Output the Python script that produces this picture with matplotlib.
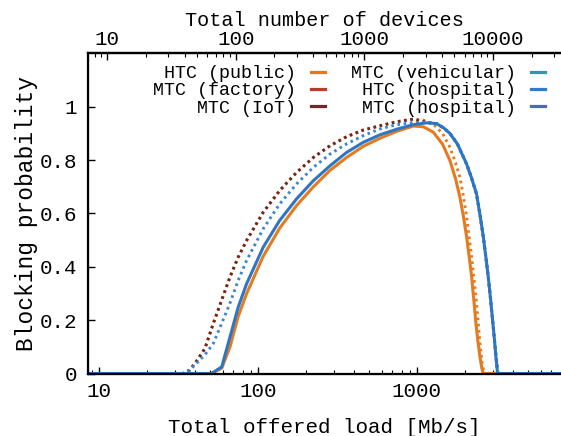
import matplotlib
matplotlib.use('Agg')
import matplotlib.pyplot as plt
from matplotlib.lines import Line2D
from matplotlib.ticker import LogLocator, FuncFormatter, NullFormatter

plt.rcParams['font.family'] = ['Liberation Mono', 'DejaVu Sans Mono']

# HTC (public) - solid orange
htc_public_load = [8.5, 51, 59.2, 66.7, 75.2, 84.9, 108, 137, 175, 223, 284, 361, 460, 585, 745, 948,
                   1100, 1267, 1450, 1614, 1750, 1864, 1960, 2055, 2130, 2209, 2280, 2350, 2420, 2490,
                   2560, 2612, 8100]
htc_public_block = [0, 0, 0.02, 0.10, 0.215, 0.30, 0.44, 0.545, 0.63, 0.70, 0.762, 0.81, 0.852, 0.882,
                    0.908, 0.928, 0.925, 0.905, 0.86, 0.798, 0.73, 0.661, 0.59, 0.511, 0.44, 0.362,
                    0.275, 0.188, 0.12, 0.063, 0.02, 0, 0]

# HTC (hospital) - solid blue
htc_hosp_load = [8.5, 51, 59.2, 66.7, 75.2, 84.9, 108, 137, 175, 223, 284, 361, 460, 585, 745, 948,
                 1150, 1330, 1480, 1614, 1800, 2055, 2200, 2370, 2500, 2612, 2710, 2810, 2910, 3005,
                 3075, 3140, 3215, 8100]
htc_hosp_block = [0, 0, 0.025, 0.137, 0.25, 0.337, 0.474, 0.574, 0.655, 0.723, 0.779, 0.829, 0.867,
                  0.895, 0.916, 0.933, 0.94, 0.937, 0.92, 0.9, 0.86, 0.785, 0.735, 0.674, 0.59, 0.515,
                  0.44, 0.362, 0.275, 0.188, 0.125, 0.063, 0, 0]

# MTC (IoT) - dotted brown
mtc_iot_load = [8.5, 33.7, 37.3, 41.5, 46.4, 52.4, 59.1, 66.7, 75.2, 84.9, 108, 137, 175, 223, 284,
                361, 460, 585, 745, 948, 1150, 1330, 1480, 1614, 1800, 2055, 2200, 2370, 2500, 2612,
                2710, 2810, 2910, 3005, 3075, 3140, 3215, 8100]
mtc_iot_block = [0, 0, 0.013, 0.05, 0.094, 0.188, 0.275, 0.362, 0.437, 0.499, 0.605, 0.686, 0.754,
                 0.81, 0.854, 0.888, 0.913, 0.929, 0.944, 0.954, 0.942, 0.937, 0.92, 0.9, 0.86, 0.785,
                 0.735, 0.674, 0.59, 0.515, 0.44, 0.362, 0.275, 0.188, 0.125, 0.063, 0, 0]

# MTC (hospital) - dotted blue
mtc_hosp_load = [8.5, 35, 38, 46.4, 52.4, 59.1, 66.7, 75.2, 84.9, 108, 137, 175, 223, 284, 361, 460,
                 585, 745, 948, 1150, 1330, 1480, 1614, 1800, 2055, 2200, 2370, 2500, 2612, 2710,
                 2810, 2910, 3005, 3075, 3150, 3245, 8100]
mtc_hosp_block = [0, 0, 0.018, 0.07, 0.113, 0.188, 0.264, 0.35, 0.424, 0.543, 0.636, 0.711, 0.773,
                  0.823, 0.861, 0.892, 0.917, 0.933, 0.941, 0.942, 0.937, 0.92, 0.9, 0.86, 0.785,
                  0.735, 0.674, 0.59, 0.515, 0.44, 0.362, 0.275, 0.188, 0.125, 0.063, 0, 0]

# second dotted orange curve (rises with the IoT one)
mtc_orange_load = [8.5, 33.7, 37.3, 41.5, 46.4, 52.4, 59.1, 66.7, 75.2, 84.9, 108, 137, 175, 223, 284,
                   361, 460, 585, 745, 948, 1100, 1267, 1450, 1614, 1750, 1864, 1960, 2055, 2130,
                   2209, 2280, 2350, 2420, 2490, 2570, 2650, 8100]
mtc_orange_block = [0, 0, 0.013, 0.05, 0.094, 0.188, 0.275, 0.362, 0.437, 0.499, 0.605, 0.686,
                    0.754, 0.81, 0.854, 0.888, 0.913, 0.929, 0.944, 0.954, 0.95, 0.935, 0.90, 0.848,
                    0.79, 0.736, 0.665, 0.586, 0.51, 0.437, 0.36, 0.287, 0.2, 0.114, 0.04, 0, 0]

legend_labels = ['HTC (public)', 'MTC (factory)', 'MTC (IoT)',
                 'MTC (vehicular)', 'HTC (hospital)', 'MTC (hospital)']
legend_colors = ['#e0782a', '#c0392b', '#702828', '#2b9baa', '#2f7bd0', '#4a6cb8']

c_orange = '#e47b20'
c_blue = '#2c76c4'
c_blue_dot = '#3a86d6'
c_brown = '#6f2626'

fig = plt.figure(figsize=(5.61, 4.36), dpi=100)
ax = fig.add_axes([88 / 561, 1 - 373.5 / 436, 1 - 88 / 561, (373.5 - 53.5) / 436])

dots = (0, (0.9, 1.25))
ax.plot(mtc_orange_load, mtc_orange_block, color=c_orange, lw=2.1, linestyle=dots)
ax.plot(mtc_iot_load, mtc_iot_block, color=c_brown, lw=2.1, linestyle=dots)
ax.plot(mtc_hosp_load, mtc_hosp_block, color=c_blue_dot, lw=2.1, linestyle=dots)
ax.plot(htc_public_load, htc_public_block, color=c_orange, lw=2.2)
ax.plot(htc_hosp_load, htc_hosp_block, color=c_blue, lw=2.2)

ax.set_xscale('log')
ax.set_xlim(8.53, 8058)
ax.set_ylim(0, 1.2)
ax.set_yticks([0, 0.2, 0.4, 0.6, 0.8, 1])
ax.yaxis.set_major_formatter(FuncFormatter(lambda v, _: f'{v:g}'))
ax.xaxis.set_major_locator(LogLocator(base=10, numticks=10))
ax.xaxis.set_minor_locator(LogLocator(base=10, subs=range(2, 10), numticks=20))
ax.xaxis.set_major_formatter(FuncFormatter(lambda v, _: f'{int(round(v))}'))
ax.xaxis.set_minor_formatter(NullFormatter())
ax.tick_params(which='both', direction='in', top=False, right=False, labelsize=15)
ax.tick_params(axis='x', pad=6)
ax.tick_params(axis='y', pad=8)
ax.tick_params(which='major', length=5, width=1)
ax.tick_params(which='minor', length=3, width=0.8)
ax.set_xlabel('Total offered load [Mb/s]', fontsize=15, labelpad=12)
ax.set_ylabel('Blocking probability', fontsize=16.5)
ax.yaxis.set_label_coords(-0.105, 0.5)
for side in ['left', 'bottom', 'top']:
    ax.spines[side].set_linewidth(1.6)
ax.spines['right'].set_visible(False)

# top axis: number of devices
ax2 = ax.twiny()
ax2.set_xscale('log')
ax2.set_xlim(7.11, 33740)
ax2.xaxis.set_major_locator(LogLocator(base=10, numticks=10))
ax2.xaxis.set_minor_locator(LogLocator(base=10, subs=range(2, 10), numticks=20))
ax2.xaxis.set_major_formatter(FuncFormatter(lambda v, _: f'{int(round(v))}'))
ax2.xaxis.set_minor_formatter(NullFormatter())
ax2.tick_params(which='both', direction='in', labelsize=15, pad=3)
ax2.tick_params(which='major', length=5, width=1)
ax2.tick_params(which='minor', length=3, width=0.8)
ax2.set_xlabel('Total number of devices', fontsize=14.5, labelpad=3)
ax2.spines['top'].set_linewidth(1.6)
ax2.spines['right'].set_visible(False)

# legend, gnuplot style: right aligned text, sample after the text
width1 = max(len(s) for s in legend_labels[:3])
width2 = max(len(s) for s in legend_labels[3:])
labels = [s.rjust(width1) for s in legend_labels[:3]] + [s.rjust(width2) for s in legend_labels[3:]]
handles = [Line2D([], [], color=c, lw=2.3) for c in legend_colors]
ax.legend(handles, labels, ncol=2, markerfirst=False, frameon=False, fontsize=13.2,
          loc='upper left', bbox_to_anchor=(153 / 561, 1 - 65 / 436), bbox_transform=fig.transFigure,
          borderpad=0, borderaxespad=0, handlelength=0.8, handletextpad=0.8, columnspacing=1.4,
          labelspacing=0.02)

fig.savefig('out.png', dpi=100)
